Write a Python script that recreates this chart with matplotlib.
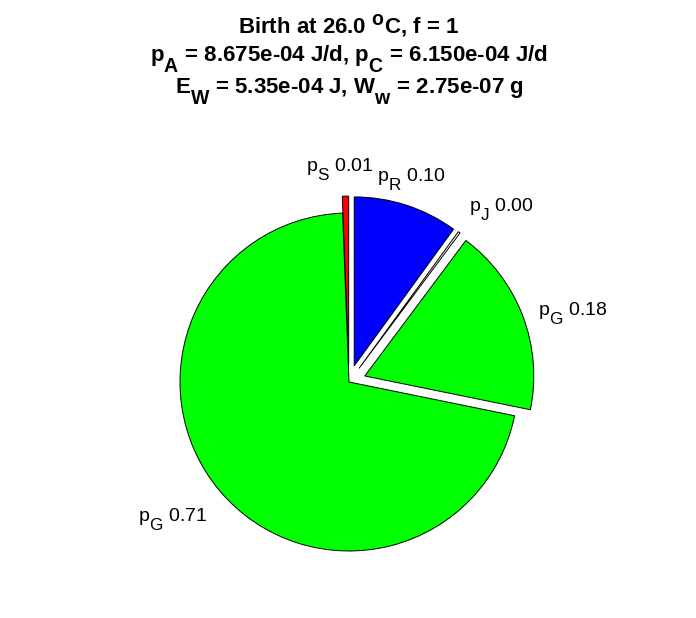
import numpy as np
import matplotlib
matplotlib.use('Agg')
import matplotlib.pyplot as plt
import matplotlib._mathtext as mt

# MATLAB-style subscripts: nearly full size and dropped lower
mt.SHRINK_FACTOR = 0.88
mt.FontConstantsBase.sub1 = 0.95
mt.FontConstantsBase.sub2 = 1.0

plt.rcParams['font.family'] = ['Liberation Sans', 'DejaVu Sans']
plt.rcParams['mathtext.fontset'] = 'custom'
plt.rcParams['mathtext.rm'] = 'Liberation Sans'
plt.rcParams['mathtext.it'] = 'Liberation Sans:italic'
plt.rcParams['mathtext.bf'] = 'Liberation Sans:bold'

# slices, counterclockwise from 12 o'clock
names = ['S', 'G', 'G', 'J', 'R']
fracs = [0.006, 0.712, 0.18, 0.002, 0.10]
shown = ['0.01', '0.71', '0.18', '0.00', '0.10']
colors = ['#ff0000', '#00ff00', '#00ff00', '#ffffff', '#0000ff']
explode = [0.1, 0, 0.1, 0.1, 0.1]

title_lines = [r'Birth at 26.0 $^{\mathbf{o}}$C, f = 1',
               r'p$_{\mathbf{A}}$ = 8.675e-04 J/d, p$_{\mathbf{C}}$ = 6.150e-04 J/d',
               r'E$_{\mathbf{W}}$ = 5.35e-04 J, W$_{\mathbf{w}}$ = 2.75e-07 g']
title_baselines = [33, 62, 94]  # px from top

labels = ['p$_{\\mathrm{%s}}$ %s' % (n, s) for n, s in zip(names, shown)]

W, H = 696, 618
fig = plt.figure(figsize=(W / 100, H / 100), dpi=100)
ax = fig.add_axes([0, 0, 1, 1])
r = 169.0
cx, cy = 349.0, H - 382.0

wedges, texts = ax.pie(fracs, labels=labels, colors=colors, explode=explode,
                       startangle=90, counterclock=True, normalize=True,
                       labeldistance=1.1,
                       wedgeprops=dict(edgecolor='black', linewidth=0.7),
                       textprops=dict(fontsize=14))
ax.set_xlim(-cx / r, (W - cx) / r)
ax.set_ylim(-cy / r, (H - cy) / r)
ax.set_aspect('equal')
ax.axis('off')

# MATLAB-like label alignment
for w, t in zip(wedges, texts):
    ang = np.deg2rad((w.theta1 + w.theta2) / 2)
    if abs(np.cos(ang)) < 0.35:
        t.set_ha('center')
    if np.sin(ang) > 0.5:
        t.set_va('bottom')
    elif np.sin(ang) < -0.5:
        t.set_va('top')
    x, y = t.get_position()
    if abs(np.cos(ang)) < 0.1:
        x -= 5 / r
    t.set_position((x, y - 4 / r))

for line, yb in zip(title_lines, title_baselines):
    fig.text(349 / W, 1 - yb / H, line, ha='center', va='baseline',
             fontsize=16, fontweight='bold')

fig.savefig('out.png', dpi=100, facecolor='white')
